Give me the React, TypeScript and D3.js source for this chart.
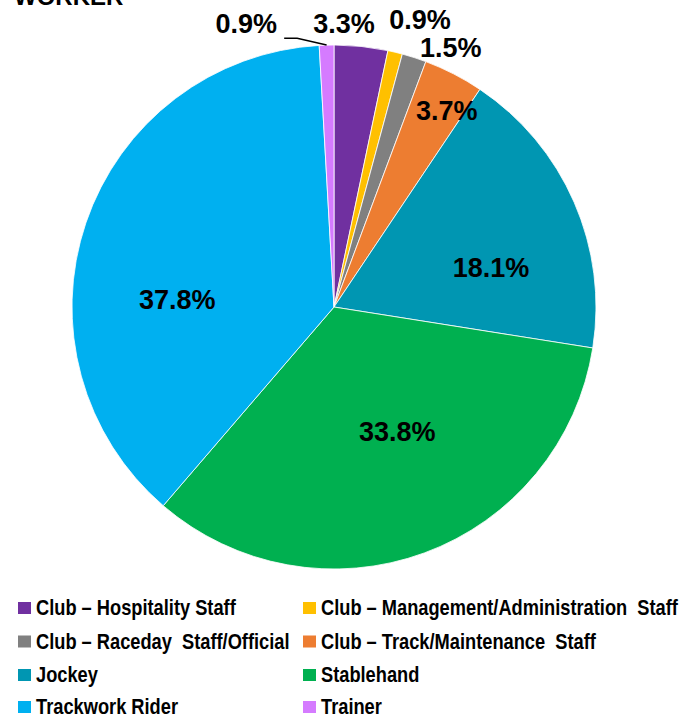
import React from "react";
import * as d3 from "d3";

const categories = [
  "Club – Hospitality Staff",
  "Club – Management/Administration  Staff",
  "Club – Raceday  Staff/Official",
  "Club – Track/Maintenance  Staff",
  "Jockey",
  "Stablehand",
  "Trackwork Rider",
  "Trainer",
];
const values = [3.3, 0.9, 1.5, 3.7, 18.1, 33.8, 37.8, 0.9];
const colors = ["#7030A0", "#FFC000", "#808080", "#ED7D31", "#0096B2", "#00B050", "#00B0F0", "#D57BFF"];
// label placement: polar (degrees clockwise from 12 o'clock, radius px)
const labelAngle = [2.0, 16.6, 24.2, 29.8, 75.7, 152.9, 272.9, 342.8];
const labelRadius = [284, 301, 285, 227, 162, 139, 157, 297];
const title = "WORKER";

const W = 694;
const H = 716;
const cx = 334;
const cy = 307;
const R = 262;

export default function App() {
  const pie = d3.pie<number>().sort(null).value((d) => d);
  const arcs = pie(values);
  const arc = d3.arc<d3.PieArcDatum<number>>().innerRadius(0).outerRadius(R);
  const outerArc = d3.arc<d3.PieArcDatum<number>>().innerRadius(R).outerRadius(R);

  const lblPos = (i: number) => {
    const a = (labelAngle[i] * Math.PI) / 180;
    return [Math.sin(a) * labelRadius[i], -Math.cos(a) * labelRadius[i]];
  };

  const trainerIdx = 7;
  const tp = outerArc.centroid(arcs[trainerIdx]);
  const tl = lblPos(trainerIdx);

  const legendRows = [615, 648.5, 682, 714];
  const legendCols = [18, 303];

  return (
    <svg
      width={W}
      height={H}
      style={{ position: "absolute", left: 0, top: 0, fontFamily: "Liberation Sans, Arial, sans-serif" }}
    >
      <rect width={W} height={H} fill="#fff" />
      <text x={14} y={5} fontSize={24} fontWeight="bold" fill="#000">
        {title}
      </text>
      <g transform={`translate(${cx},${cy})`}>
        {arcs.map((a, i) => (
          <path key={i} d={arc(a) || ""} fill={colors[i]} stroke="#fff" strokeWidth={0.8} />
        ))}
        <polyline
          points={`${tp[0]},${tp[1]} ${tl[0] + 51},${tl[1] + 15} ${tl[0] + 38},${tl[1] + 15}`}
          fill="none"
          stroke="#000"
          strokeWidth={1.5}
        />
        {arcs.map((a, i) => {
          const [x, y] = lblPos(i);
          return (
            <text
              key={"l" + i}
              x={x}
              y={y + 10}
              textAnchor="middle"
              fontSize={27}
              fontWeight="bold"
              fill="#000"
            >
              {values[i].toFixed(1) + "%"}
            </text>
          );
        })}
      </g>
      {categories.map((c, i) => {
        const col = i % 2;
        const row = Math.floor(i / 2);
        const x = legendCols[col];
        const y = legendRows[row];
        return (
          <g key={"lg" + i}>
            <rect x={x} y={y - 13} width={13} height={12} fill={colors[i]} />
            <text
              transform={`translate(${x + 18},${y}) scale(0.83,1)`}
              fontSize={22}
              fontWeight="bold"
              fill="#000"
              style={{ whiteSpace: "pre" }}
            >
              {c}
            </text>
          </g>
        );
      })}
    </svg>
  );
}
